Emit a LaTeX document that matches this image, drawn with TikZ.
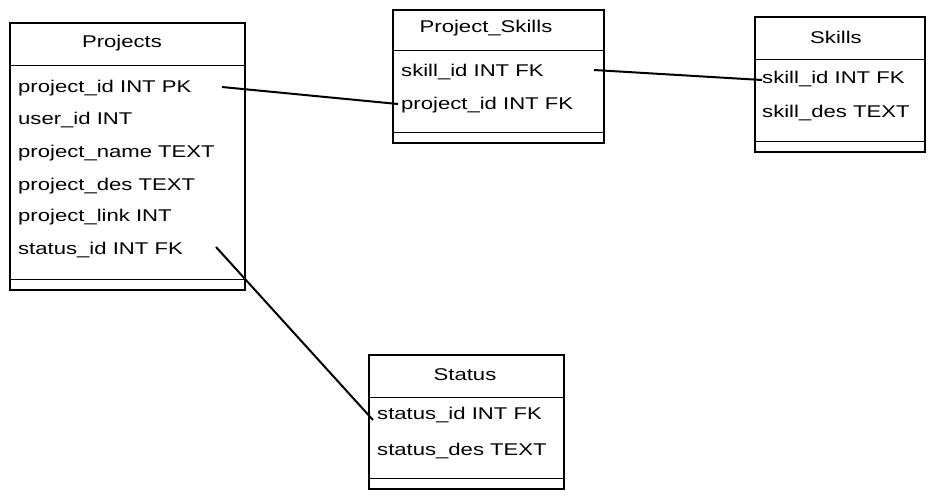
\documentclass[tikz,border=0pt]{standalone}
\usepackage{fontspec}
\setmainfont{Liberation Sans}[FakeStretch=1.3]
\usetikzlibrary{calc}
\begin{document}
\begin{tikzpicture}[x=1pt,y=-1pt,
  tbl/.style={draw=black,line width=1.4pt,rectangle,inner sep=0pt},
  sep/.style={draw=black,line width=1pt},
  ttl/.style={font=\fontsize{17}{19}\selectfont,anchor=center,inner sep=0pt},
  fld/.style={font=\fontsize{17}{19}\selectfont,anchor=west,inner sep=0pt},
  conn/.style={draw=black,line width=2pt}]
\useasboundingbox (0,0) rectangle (938,499);
\fill[white] (0,0) rectangle (938,499);
% Projects
\draw[tbl] (10,23) rectangle (245,290);
\draw[sep] (10,65) -- (245,65);
\draw[sep] (10,279) -- (245,279);
\node[ttl] (pt) at (122,43) {Projects};
\node[fld] (p1) at (18,88) {project\_id INT PK};
\node[fld] (p2) at (18,120) {user\_id INT};
\node[fld] (p3) at (18,153) {project\_name TEXT};
\node[fld] (p4) at (18,186) {project\_des TEXT};
\node[fld] (p5) at (18,217) {project\_link INT};
\node[fld] (p6) at (18,250) {status\_id INT FK};
% Project_Skills
\draw[tbl] (393,10) rectangle (604,143);
\draw[sep] (393,50) -- (604,50);
\draw[sep] (393,132) -- (604,132);
\node[ttl] (pst) at (486,28) {Project\_Skills};
\node[fld] (ps1) at (401,72) {skill\_id INT FK};
\node[fld] (ps2) at (401,105) {project\_id INT FK};
% Skills
\draw[tbl] (755,17) rectangle (925,152);
\draw[sep] (755,59) -- (925,59);
\draw[sep] (755,141) -- (925,141);
\node[ttl] (st) at (836,37) {Skills};
\node[fld] (s1) at (762,79) {skill\_id INT FK};
\node[fld] (s2) at (762,113) {skill\_des TEXT};
% Status
\draw[tbl] (369,355) rectangle (564,489);
\draw[sep] (369,397) -- (564,397);
\draw[sep] (369,478) -- (564,478);
\node[ttl] (sst) at (465,375) {Status};
\node[fld] (ss1) at (377,415) {status\_id INT FK};
\node[fld] (ss2) at (377,451) {status\_des TEXT};
% connector end points
\coordinate (c1a) at (222,87);
\coordinate (c1b) at (398,104);
\coordinate (c2a) at (594,70);
\coordinate (c2b) at (762,80);
\coordinate (c3a) at (216,247);
\coordinate (c3b) at (373,420);
\draw[conn] (c1a) -- (c1b);
\draw[conn] (c2a) -- (c2b);
\draw[conn] (c3a) -- (c3b);
\end{tikzpicture}
\end{document}
